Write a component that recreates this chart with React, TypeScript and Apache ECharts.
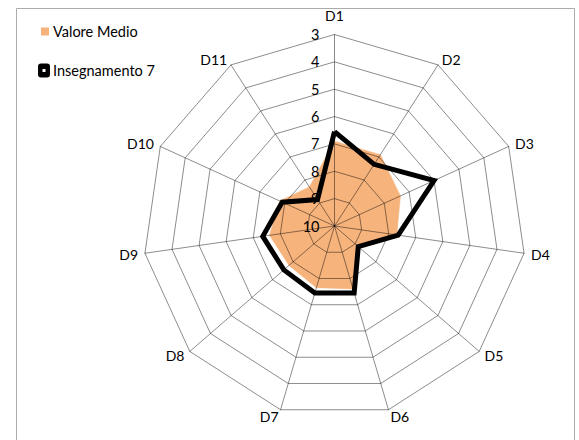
import React, { useEffect, useRef } from "react";
import * as echarts from "echarts";

const categories = ["D1", "D2", "D3", "D4", "D5", "D6", "D7", "D8", "D9", "D10", "D11"];
const valoreMedio = [6.9, 6.9, 7.35, 7.7, 8.8, 7.6, 7.65, 7.8, 7.6, 7.8, 8.3];
const insegnamento7 = [6.55, 7.32, 6.0, 7.65, 8.85, 7.45, 7.45, 7.55, 7.35, 7.9, 8.85];
const scaleOuter = 3;
const scaleCenter = 10;
const seriesNames = ["Valore Medio", "Insegnamento 7"];

const FONT = "Lato, 'Open Sans', sans-serif";
const GRID = "rgba(0,0,0,0.45)";
const ORANGE = "#F7B37C";

export default function App() {
  const ref = useRef<HTMLDivElement>(null);
  useEffect(() => {
    if (!ref.current) return;
    const chart = echarts.init(ref.current, undefined, { renderer: "svg" });
    // clockwise order: D1 at top, D2 to the right
    const order = [0, ...categories.map((_, i) => i).slice(1).reverse()];
    const span = scaleCenter - scaleOuter;
    const indicator = order.map((i, k) => {
      const base: any = { name: categories[i], min: 0, max: span };
      if (k === 0) {
        base.nameGap = 12;
        base.axisLabel = {
          show: true,
          color: "#000",
          fontSize: 14.5,
          fontFamily: FONT,
          margin: 15,
          formatter: (v: number) => String(scaleCenter - v),
        };
      }
      return base;
    });
    const toR = (arr: number[]) => order.map((i) => scaleCenter - arr[i]);
    chart.setOption({
      animation: false,
      graphic: [
        {
          type: "rect",
          shape: { x: 16.5, y: 8.5, width: 558, height: 460 },
          style: { fill: "none", stroke: "#ABABAB", lineWidth: 1 },
          z: 0,
        },
      ],
      legend: [
        {
          data: [{ name: seriesNames[0], icon: "rect" }],
          left: 41,
          top: 24,
          padding: 0,
          itemWidth: 8,
          itemHeight: 8,
          selectedMode: false,
          textStyle: { fontSize: 14.5, fontFamily: FONT, color: "#000", padding: [0, 0, 0, -1] },
          itemStyle: { borderWidth: 0 },
        },
        {
          data: [
            {
              name: seriesNames[1],
              icon: "path://M3,0 H9 Q12,0 12,3 V11 Q12,14 9,14 H3 Q0,14 0,11 V3 Q0,0 3,0 Z M4.5,5.5 V8.5 H7.5 V5.5 Z",
            },
          ],
          left: 38,
          top: 63,
          padding: 0,
          itemWidth: 12,
          itemHeight: 14,
          selectedMode: false,
          textStyle: { fontSize: 14.5, fontFamily: FONT, color: "#000", padding: [0, 0, 0, -2] },
          itemStyle: { borderWidth: 0 },
        },
      ],
      radar: {
        center: [334.5, 226],
        radius: 191.5,
        startAngle: 90,
        splitNumber: span,
        shape: "polygon",
        indicator,
        nameGap: 7,
        axisName: { color: "#000", fontSize: 14, fontFamily: FONT },
        axisLine: { lineStyle: { color: GRID, width: 1 } },
        splitLine: { lineStyle: { color: GRID, width: 1 } },
        splitArea: { show: false },
        axisTick: { show: false },
        axisLabel: { show: false },
        z: 2,
      },
      series: [
        {
          type: "radar",
          name: seriesNames[0],
          z: 1,
          color: ORANGE,
          symbol: "none",
          lineStyle: { width: 0.5, color: ORANGE },
          areaStyle: { color: ORANGE, opacity: 1 },
          itemStyle: { color: ORANGE },
          data: [{ name: seriesNames[0], value: toR(valoreMedio) }],
        },
        {
          type: "radar",
          name: seriesNames[1],
          z: 3,
          color: "#000",
          symbol: "none",
          lineStyle: { width: 5, color: "#000", join: "miter" },
          itemStyle: { color: "#000" },
          data: [{ name: seriesNames[1], value: toR(insegnamento7) }],
        },
      ],
    });
    return () => chart.dispose();
  }, []);
  return (
    <div
      ref={ref}
      style={{ position: "absolute", left: 0, top: 0, width: 579, height: 440, background: "#fff" }}
    />
  );
}
